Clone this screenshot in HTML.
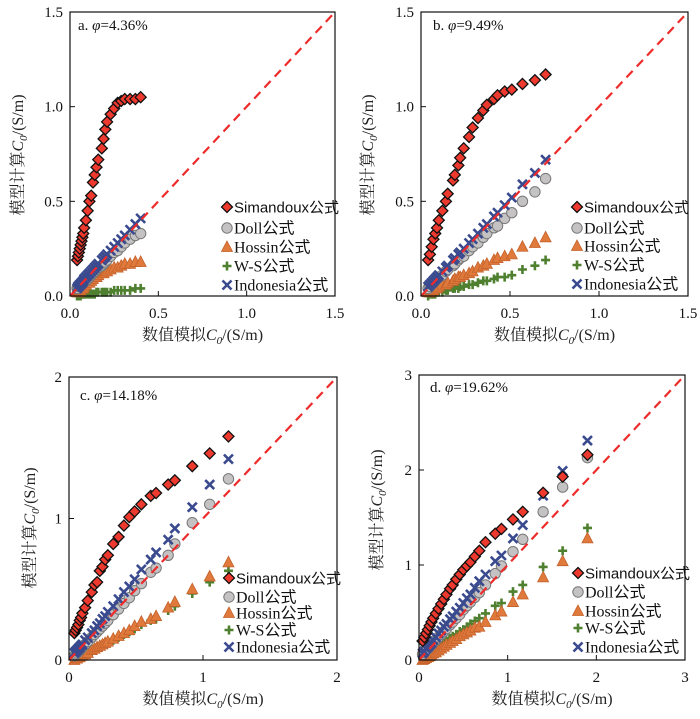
<!DOCTYPE html>
<html><head><meta charset="utf-8">
<style>
html,body{margin:0;padding:0;background:#fff;}
svg{display:block;}
.tick{font-family:"Liberation Serif",serif;font-size:15px;fill:#111;}
.title{font-family:"Liberation Serif","Noto Serif CJK SC",serif;font-size:16px;fill:#222;}
.leg{font-family:"Liberation Serif","Noto Sans CJK SC",sans-serif;font-size:16px;fill:#111;}
.legs{font-family:"Liberation Sans","Noto Sans CJK SC",sans-serif;font-size:15px;fill:#111;}
.plabel{font-family:"Liberation Serif",serif;font-size:15px;fill:#111;}
</style></head>
<body>
<svg id="chart" width="700" height="719" viewBox="0 0 700 719" xmlns="http://www.w3.org/2000/svg"></svg>
<script>
// ---- data ----
const seriesNames = ["Simandoux公式","Doll公式","Hossin公式","W-S公式","Indonesia公式"];
const panelLabels = ["a. ","b. ","c. ","d. "];
const panelPhi = ["=4.36%","=9.49%","=14.18%","=19.62%"];
const axisMax = [1.5,1.5,2,3];
const ticksA = ["0.0","0.5","1.0","1.5"];
const ticksC = ["0","1","2"];
const ticksD = ["0","1","2","3"];

const xA = [0.04,0.045,0.05,0.055,0.06,0.065,0.07,0.075,0.08,0.09,0.10,0.11,0.12,0.13,0.14,0.15,0.16,0.18,0.19,0.20,0.21,0.23,0.25,0.27,0.29,0.31,0.34,0.37,0.40];
const simA = [0.19,0.21,0.23,0.25,0.27,0.29,0.31,0.33,0.36,0.40,0.45,0.50,0.53,0.60,0.64,0.68,0.72,0.78,0.83,0.88,0.92,0.96,0.99,1.02,1.03,1.04,1.04,1.04,1.05];
const dollA = [0.04,0.04,0.05,0.05,0.06,0.06,0.07,0.07,0.08,0.08,0.09,0.10,0.11,0.12,0.13,0.14,0.15,0.16,0.17,0.18,0.19,0.21,0.23,0.24,0.26,0.28,0.30,0.32,0.33];
const hosA = [0.02,0.02,0.03,0.03,0.03,0.04,0.04,0.04,0.05,0.06,0.07,0.07,0.08,0.09,0.10,0.10,0.11,0.12,0.12,0.13,0.13,0.14,0.15,0.15,0.16,0.17,0.17,0.18,0.18];
const wsA = [0.00,0.00,0.00,0.00,0.00,0.01,0.01,0.01,0.01,0.01,0.01,0.01,0.01,0.01,0.01,0.02,0.02,0.02,0.02,0.02,0.02,0.02,0.03,0.03,0.03,0.03,0.03,0.04,0.04];
const indoA = [0.04,0.05,0.05,0.06,0.06,0.07,0.07,0.08,0.09,0.10,0.11,0.12,0.13,0.14,0.15,0.16,0.17,0.19,0.20,0.21,0.22,0.24,0.26,0.28,0.30,0.32,0.35,0.38,0.41];

const xB = [0.04,0.05,0.06,0.07,0.08,0.09,0.10,0.12,0.14,0.15,0.18,0.19,0.21,0.22,0.24,0.27,0.29,0.32,0.35,0.37,0.41,0.43,0.47,0.51,0.57,0.64,0.70];
const simB = [0.19,0.22,0.26,0.30,0.33,0.36,0.40,0.45,0.50,0.54,0.61,0.64,0.69,0.73,0.78,0.84,0.89,0.94,0.98,1.01,1.04,1.06,1.08,1.09,1.12,1.14,1.17];
const dollB = [0.04,0.05,0.06,0.07,0.08,0.09,0.10,0.11,0.13,0.14,0.16,0.17,0.19,0.20,0.21,0.24,0.26,0.28,0.31,0.33,0.36,0.37,0.41,0.44,0.50,0.55,0.62];
const hosB = [0.02,0.02,0.03,0.03,0.04,0.04,0.05,0.06,0.06,0.07,0.08,0.09,0.10,0.10,0.11,0.12,0.13,0.15,0.16,0.17,0.19,0.20,0.21,0.22,0.26,0.28,0.31];
const wsB = [0.00,0.01,0.01,0.01,0.01,0.02,0.02,0.02,0.03,0.03,0.04,0.04,0.04,0.05,0.05,0.06,0.06,0.07,0.08,0.08,0.09,0.10,0.10,0.11,0.14,0.16,0.19];
const indoB = [0.05,0.06,0.07,0.08,0.09,0.10,0.11,0.13,0.15,0.16,0.19,0.20,0.22,0.23,0.25,0.28,0.30,0.33,0.36,0.38,0.42,0.44,0.48,0.52,0.59,0.65,0.72];

const xC = [0.04,0.05,0.06,0.07,0.08,0.09,0.10,0.12,0.14,0.17,0.19,0.21,0.23,0.25,0.27,0.29,0.33,0.37,0.41,0.45,0.49,0.54,0.61,0.65,0.74,0.79,0.92,1.05,1.19];
const simC = [0.19,0.21,0.23,0.25,0.28,0.30,0.33,0.37,0.42,0.48,0.53,0.55,0.63,0.66,0.71,0.74,0.82,0.87,0.95,1.01,1.05,1.10,1.16,1.18,1.24,1.27,1.37,1.46,1.58];
const dollC = [0.03,0.04,0.05,0.06,0.07,0.08,0.09,0.11,0.13,0.16,0.18,0.20,0.22,0.24,0.26,0.28,0.32,0.36,0.40,0.44,0.49,0.54,0.62,0.65,0.74,0.82,0.97,1.10,1.28];
const hosC = [0.00,0.01,0.01,0.02,0.02,0.03,0.03,0.04,0.05,0.07,0.08,0.09,0.10,0.11,0.12,0.13,0.15,0.17,0.19,0.21,0.24,0.27,0.29,0.31,0.37,0.41,0.50,0.59,0.69];
const wsC = [0.00,0.00,0.01,0.01,0.02,0.02,0.03,0.04,0.05,0.06,0.07,0.08,0.09,0.10,0.11,0.12,0.14,0.16,0.18,0.20,0.22,0.25,0.28,0.29,0.35,0.38,0.47,0.55,0.63];
const indoC = [0.05,0.06,0.07,0.08,0.09,0.10,0.11,0.14,0.16,0.19,0.21,0.24,0.26,0.29,0.31,0.34,0.38,0.43,0.48,0.52,0.57,0.64,0.71,0.76,0.85,0.93,1.08,1.24,1.42];

const xD = [0.04,0.06,0.08,0.10,0.12,0.14,0.16,0.19,0.22,0.25,0.28,0.31,0.35,0.38,0.42,0.46,0.50,0.54,0.58,0.63,0.68,0.75,0.86,0.93,1.06,1.17,1.40,1.62,1.90];
const simD = [0.20,0.24,0.28,0.32,0.36,0.40,0.44,0.49,0.54,0.59,0.64,0.69,0.75,0.79,0.85,0.90,0.95,0.99,1.03,1.09,1.15,1.24,1.33,1.38,1.48,1.56,1.76,1.93,2.16];
const dollD = [0.06,0.08,0.10,0.12,0.14,0.16,0.18,0.21,0.24,0.27,0.30,0.33,0.37,0.40,0.44,0.48,0.53,0.57,0.61,0.66,0.71,0.79,0.91,0.99,1.14,1.27,1.56,1.82,2.13];
const hosD = [0.00,0.01,0.02,0.03,0.04,0.05,0.07,0.08,0.10,0.12,0.14,0.16,0.18,0.20,0.22,0.25,0.27,0.29,0.31,0.34,0.35,0.40,0.47,0.51,0.61,0.69,0.87,1.04,1.28];
const wsD = [0.02,0.03,0.04,0.06,0.07,0.09,0.10,0.12,0.14,0.16,0.18,0.20,0.23,0.25,0.27,0.30,0.32,0.35,0.38,0.41,0.44,0.49,0.57,0.60,0.72,0.79,0.98,1.15,1.39];
const indoD = [0.07,0.09,0.12,0.14,0.16,0.18,0.21,0.24,0.28,0.31,0.35,0.38,0.43,0.46,0.51,0.55,0.60,0.65,0.69,0.76,0.83,0.90,1.04,1.10,1.28,1.42,1.73,1.99,2.31];

// ---- layout ----
const NS="http://www.w3.org/2000/svg";
const svg=document.getElementById('chart');
function mk(tag,attrs,parent){const e=document.createElementNS(NS,tag);for(const k in attrs)e.setAttribute(k,attrs[k]);(parent||svg).appendChild(e);return e;}

const panels=[
 {L:70,R:335,T:12,B:296,x:xA,ys:[simA,dollA,hosA,wsA,indoA],ticks:ticksA,leg:[227,[207,228,247,266,285]],yt:[18,155],lab:[78,30],name:'a'},
 {L:421,R:688,T:12,B:296,x:xB,ys:[simB,dollB,hosB,wsB,indoB],ticks:ticksA,leg:[577,[207,228,246,265,284]],yt:[368,155],lab:[433,30],name:'b'},
 {L:69,R:337,T:377,B:660,x:xC,ys:[simC,dollC,hosC,wsC,indoC],ticks:ticksC,leg:[229,[578,597,613,630,647]],yt:[30,528],lab:[80,400],name:'c'},
 {L:419,R:685,T:375,B:660,x:xD,ys:[simD,dollD,hosD,wsD,indoD],ticks:ticksD,leg:[578,[573,592,611,628,647]],yt:[377,510],lab:[430,392],name:'d'}
];

function marker(type,cx,cy,g){
  let e;
  if(type===0){e=mk('path',{d:`M${cx} ${cy-5.5}L${cx+5.5} ${cy}L${cx} ${cy+5.5}L${cx-5.5} ${cy}Z`,fill:'#ee3a2e',stroke:'#111','stroke-width':1.3},g);}
  else if(type===1){e=mk('circle',{cx:cx,cy:cy,r:5.2,fill:'#c4c2c2',stroke:'#777','stroke-width':1},g);}
  else if(type===2){e=mk('path',{d:`M${cx} ${cy-6}L${cx+5.5} ${cy+4.5}L${cx-5.5} ${cy+4.5}Z`,fill:'#e07a3c',stroke:'#c4602a','stroke-width':0.8},g);}
  else if(type===3){e=mk('path',{d:`M${cx-4.5} ${cy}H${cx+4.5}M${cx} ${cy-4.5}V${cy+4.5}`,stroke:'#4f8030','stroke-width':2.6,fill:'none'},g);}
  else {e=mk('path',{d:`M${cx-4.5} ${cy-4.5}L${cx+4.5} ${cy+4.5}M${cx+4.5} ${cy-4.5}L${cx-4.5} ${cy+4.5}`,stroke:'#3a4a8e','stroke-width':2.6,fill:'none'},g);}
  return e;
}

panels.forEach((p,pi)=>{
  const max=axisMax[pi];
  const sx=v=>p.L+(p.R-p.L)*v/max;
  const sy=v=>p.B-(p.B-p.T)*v/max;
  const g=mk('g',{});
  
  
  const n=p.ticks.length;
  for(let i=0;i<n;i++){
    const v=max*i/(n-1);
    const tx=mk('text',{x:sx(v),y:p.B+22,'text-anchor':'middle',class:'tick'},g);tx.textContent=p.ticks[i];
    
    
    const ty=mk('text',{x:p.L-7,y:sy(v)+5,'text-anchor':'end',class:'tick'},g);ty.textContent=p.ticks[i];
    
    
    if(i>0&&i<n-1){
      mk('line',{x1:sx(v),x2:sx(v),y1:p.B,y2:p.B-5,stroke:'#111','stroke-width':1},g);
      mk('line',{x1:p.L,x2:p.L+5,y1:sy(v),y2:sy(v),stroke:'#111','stroke-width':1},g);
    }
  }
  const order=[3,2,1,4,0];
  order.forEach(si=>{
    const sg=mk('g',{},g);
    
    
    const ys=p.ys[si];
    for(let k=0;k<p.x.length;k++){
      const m=marker(si,sx(p.x[k]),sy(ys[k]),sg);
      
      
    }
  });
  const dl=mk('line',{x1:sx(0),y1:sy(0),x2:sx(max),y2:sy(max),stroke:'#ee2b2b','stroke-width':2.2,'stroke-dasharray':'9 6'},g);
  
  
  const fr=mk('rect',{x:p.L,y:p.T,width:p.R-p.L,height:p.B-p.T,fill:'none',stroke:'#111','stroke-width':1.2},g);
  
  
  const pl=mk('text',{x:p.lab[0],y:p.lab[1],class:'plabel'},g);
  pl.innerHTML=panelLabels[pi]+'<tspan font-style="italic">φ</tspan>'+panelPhi[pi];
  
  
  const lg=mk('g',{},g);
  
  
  for(let si=0;si<5;si++){
    const ly=p.leg[1][si];
    marker(si,p.leg[0],ly,lg);
    const t=mk('text',{x:p.leg[0]+7,y:ly+5.5,class:(si===0?'legs':'leg')},lg);
    t.textContent=seriesNames[si];
    
    
  }
  const yt=mk('text',{x:p.yt[0],y:p.yt[1],'text-anchor':'middle',class:'title',transform:`rotate(-90 ${p.yt[0]} ${p.yt[1]})`,dy:'5'},g);
  yt.innerHTML='模型计算<tspan font-style="italic">C</tspan><tspan font-style="italic" font-size="11" dy="4">0</tspan><tspan dy="-4">/(S/m)</tspan>';
  
  
  const xt=mk('text',{x:(p.L+p.R)/2,y:p.B+44,'text-anchor':'middle',class:'title'},g);
  xt.innerHTML='数值模拟<tspan font-style="italic">C</tspan><tspan font-style="italic" font-size="11" dy="4">0</tspan><tspan dy="-4">/(S/m)</tspan>';
  
  
});
</script>
</body></html>
